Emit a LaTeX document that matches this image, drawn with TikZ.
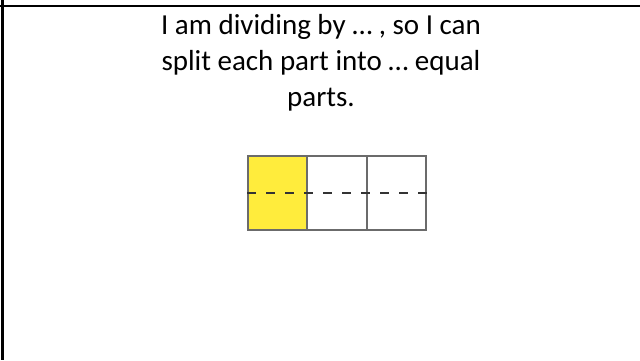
\documentclass[tikz,border=0pt]{standalone}
\usepackage{fontspec}
\setmainfont{Carlito}
\definecolor{cellyellow}{RGB}{255,236,60}
\begin{document}
\begin{tikzpicture}[x=1bp,y=-1bp,
  rule/.style={line width=2bp,black},
  txt/.style={anchor=base,inner sep=0pt,font=\fontsize{29bp}{36bp}\selectfont},
  cell/.style={draw=black!58,line width=2bp},
  split/.style={draw=black!80,line width=1.8bp,dash pattern=on 9bp off 10bp}]
\useasboundingbox[fill=white] (0,0) rectangle (640,360);
\coordinate (tl) at (0,5.5);
\coordinate (tr) at (640,5.5);
\coordinate (lt) at (2.5,0);
\coordinate (lb) at (2.5,360);
\draw[rule] (tl) -- (tr);
\draw[rule] (lt) -- (lb);
\node[txt] (l1) at (321,34) {I am dividing by … , so I can};
\node[txt] (l2) at (321,70) {split each part into … equal};
\node[txt] (l3) at (321,106) {parts.};
\fill[cellyellow] (247,155) rectangle (306,229);
\node[cell,minimum width=59bp,minimum height=74bp,inner sep=0pt,anchor=north west] (c1) at (247,155) {};
\node[cell,minimum width=60bp,minimum height=74bp,inner sep=0pt,anchor=north west] (c2) at (306,155) {};
\node[cell,minimum width=59bp,minimum height=74bp,inner sep=0pt,anchor=north west] (c3) at (366,155) {};
\draw[split] (c1.west) -- (c3.east);
\end{tikzpicture}
\end{document}
